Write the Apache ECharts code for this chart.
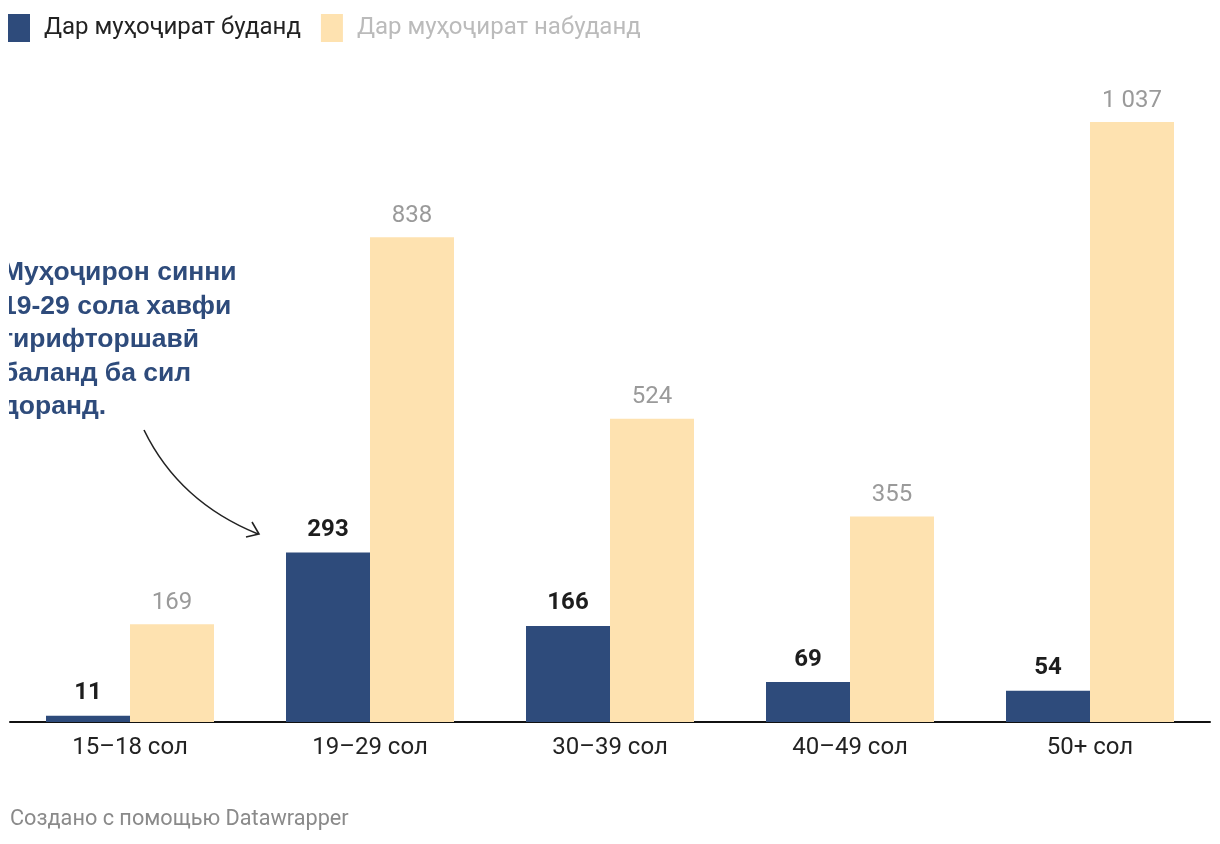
<!DOCTYPE html>
<html>
<head>
<meta charset="utf-8">
<script src="https://cdn.jsdelivr.net/npm/echarts@6/dist/echarts.min.js"></script>
<style>
html,body{margin:0;padding:0;background:#fff;}
#chart{width:1220px;height:844px;}
</style>
</head>
<body>
<div id="chart"></div>
<script>
const categories = ['15–18 сол', '19–29 сол', '30–39 сол', '40–49 сол', '50+ сол'];
const seriesNames = ['Дар муҳоҷират буданд', 'Дар муҳоҷират набуданд'];
const migrated = [11, 293, 166, 69, 54];
const notMigrated = [169, 838, 524, 355, 1037];
const annotationLines = ['Муҳоҷирон синни', '19-29 сола хавфи', 'гирифторшавӣ', 'баланд ба сил', 'доранд.'];
const footerText = 'Создано с помощью Datawrapper';

const NAVY = '#2e4b7b';
const YELLOW = '#fee2b0';

function fmt(v) {
  return String(v).replace(/\B(?=(\d{3})+(?!\d))/g, ' ');
}

const chart = echarts.init(document.getElementById('chart'), null, {renderer: 'canvas'});
chart.setOption({
  animation: false,
  backgroundColor: '#fff',
  textStyle: {fontFamily: 'Roboto'},
  legend: {
    left: 8, top: 14, padding: 0,
    itemWidth: 22, itemHeight: 28, itemGap: 20,
    icon: 'rect',
    selectedMode: false,
    textStyle: {fontFamily: 'Roboto', fontSize: 24, padding: [0, 0, 0, 9]},
    data: [
      {name: seriesNames[0], textStyle: {color: '#222'}},
      {name: seriesNames[1], textStyle: {color: '#bbbbbb'}}
    ]
  },
  grid: {left: 10, right: 10, top: 122, bottom: 122, containLabel: false},
  xAxis: {
    type: 'category',
    data: categories,
    axisLine: {show: true, lineStyle: {color: '#111', width: 2}},
    axisTick: {show: false},
    axisLabel: {fontFamily: 'Roboto', fontSize: 24, color: '#222', margin: 14}
  },
  yAxis: {
    type: 'value', min: 0, max: 1037,
    show: false,
    splitLine: {show: false}
  },
  series: [
    {
      name: seriesNames[0], type: 'bar', data: migrated,
      barCategoryGap: '30%', barGap: '0%',
      itemStyle: {color: NAVY},
      label: {show: true, position: 'top', distance: 10.5, fontFamily: 'Roboto', fontSize: 24, fontWeight: 'bold', color: '#1d1d1d', formatter: p => fmt(p.value)}
    },
    {
      name: seriesNames[1], type: 'bar', data: notMigrated,
      barCategoryGap: '30%', barGap: '0%',
      itemStyle: {color: YELLOW},
      label: {show: true, position: 'top', distance: 9.5, fontFamily: 'Roboto', fontSize: 24, color: '#9a9a9a', formatter: p => fmt(p.value)}
    }
  ],
  graphic: [
    {
      type: 'text', left: 2, top: 256, z: 10,
      style: {
        text: annotationLines.join('\n'),
        fontFamily: 'Liberation Sans', fontSize: 26.5, fontWeight: 'bold',
        lineHeight: 33.5, fill: NAVY
      }
    },
    {type: 'rect', shape: {x: 0, y: 250, width: 9, height: 180}, style: {fill: '#fff'}, z: 11},
    {
      type: 'bezierCurve',
      shape: {x1: 144, y1: 430, cpx1: 179, cpy1: 502, x2: 258, y2: 534},
      style: {stroke: '#222', lineWidth: 1.6, fill: null}, z: 10
    },
    {
      type: 'polyline',
      shape: {points: [[252, 522], [259, 534], [246, 537]]},
      style: {stroke: '#222', lineWidth: 1.6, fill: null}, z: 10
    },
    {
      type: 'text', left: 10, top: 809,
      style: {text: footerText, fontFamily: 'Roboto', fontSize: 21.7, fill: '#8a8a8a'}
    }
  ]
});
</script>
</body>
</html>
